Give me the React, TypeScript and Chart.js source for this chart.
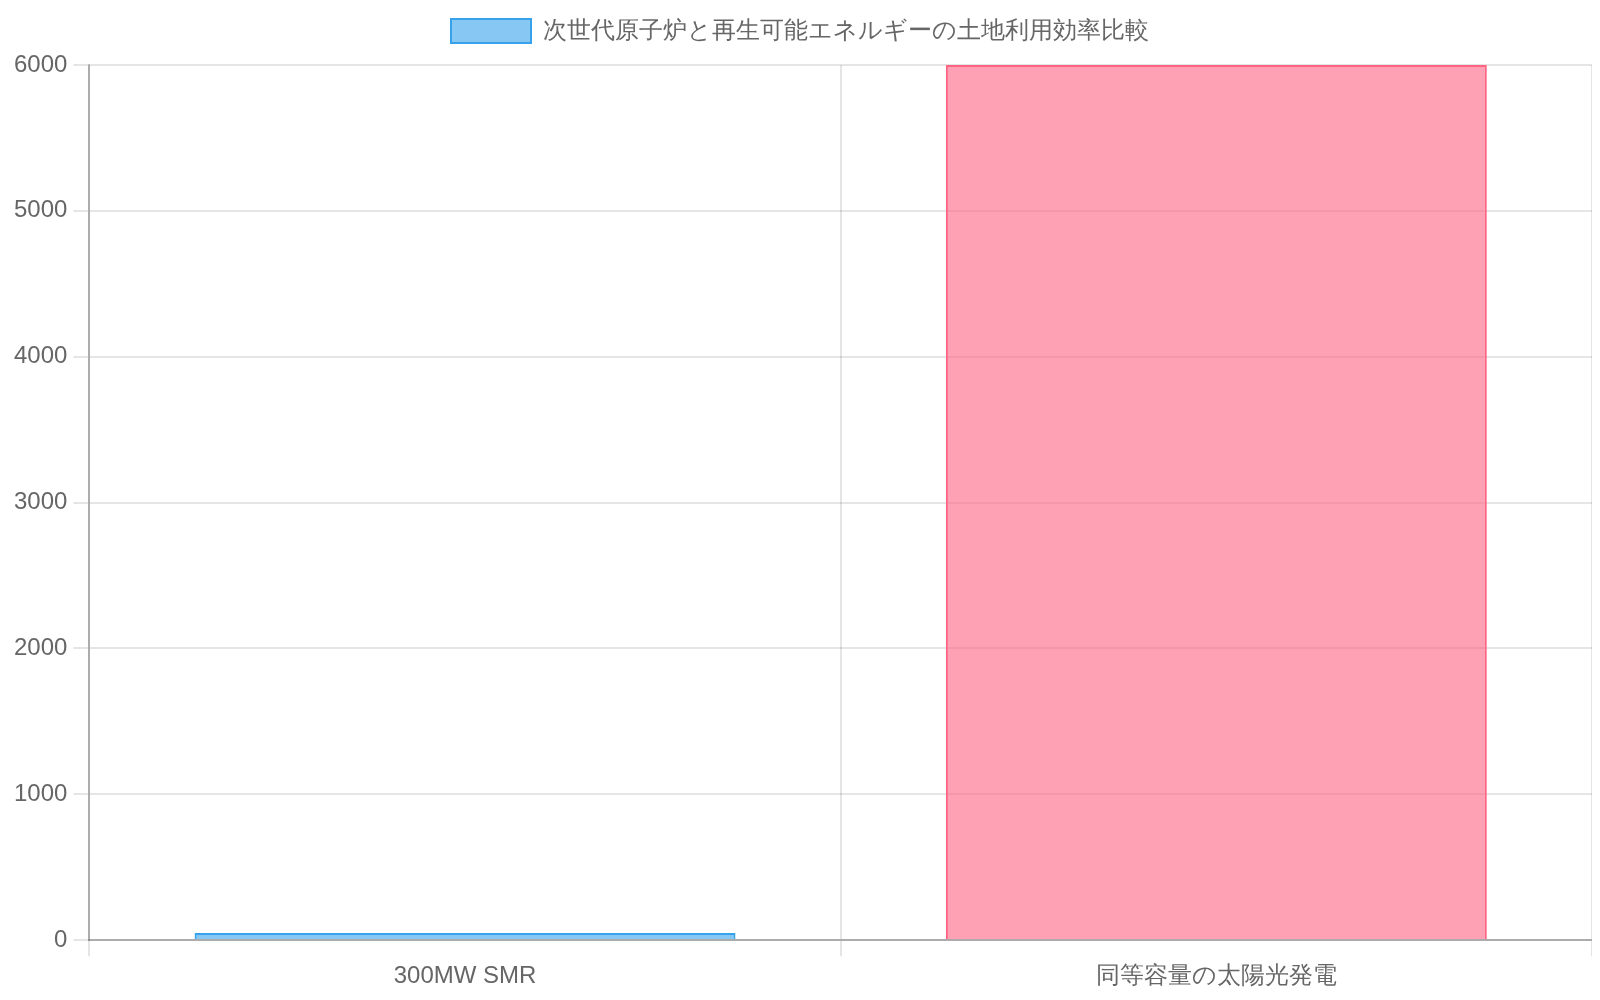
import { useEffect, useRef } from "react";
import { Chart, registerables } from "chart.js";

Chart.register(...registerables);

const categories = ["300MW SMR", "同等容量の太陽光発電"];
const landUse = [50, 6000];
const seriesLabel = "次世代原子炉と再生可能エネルギーの土地利用効率比較";

// adds a little room under the legend
const legendGap = {
  id: "legendGap",
  beforeInit(chart: any) {
    const fit = chart.legend.fit;
    chart.legend.fit = function () {
      fit.bind(chart.legend)();
      this.height += 12;
    };
  },
};

export default function App() {
  const chartRef = useRef<HTMLCanvasElement>(null);
  const chartInstanceRef = useRef<Chart | null>(null);

  useEffect(() => {
    if (!chartRef.current) return;

    if (chartInstanceRef.current) {
      chartInstanceRef.current.destroy();
    }

    const ctx = chartRef.current.getContext("2d");
    if (!ctx) return;

    const font = { size: 24 };

    chartInstanceRef.current = new Chart(ctx, {
      type: "bar",
      data: {
        labels: categories,
        datasets: [
          {
            label: seriesLabel,
            data: landUse,
            backgroundColor: ["rgba(54, 162, 235, 0.6)", "rgba(255, 99, 132, 0.6)"],
            borderColor: ["rgb(54, 162, 235)", "rgb(255, 99, 132)"],
            borderWidth: 2,
          },
        ],
      },
      options: {
        animation: false,
        responsive: true,
        maintainAspectRatio: false,
        devicePixelRatio: 1,
        plugins: {
          legend: {
            labels: {
              font,
              boxWidth: 80,
              padding: 11,
            },
          },
          tooltip: { enabled: false },
        },
        scales: {
          x: {
            ticks: { font, padding: 6 },
            grid: { lineWidth: 2, tickLength: 16 },
            border: { width: 2, color: "rgba(0, 0, 0, 0.25)" },
          },
          y: {
            beginAtZero: true,
            ticks: { font, padding: 6, callback: (v) => String(v) },
            grid: { lineWidth: 2, tickLength: 16 },
            border: { width: 2, color: "rgba(0, 0, 0, 0.25)" },
          },
        },
      },
      plugins: [legendGap],
    });

    return () => {
      if (chartInstanceRef.current) {
        chartInstanceRef.current.destroy();
      }
    };
  }, []);

  return (
    <div style={{ position: "relative", height: 989 }}>
      <canvas ref={chartRef}></canvas>
    </div>
  );
}
